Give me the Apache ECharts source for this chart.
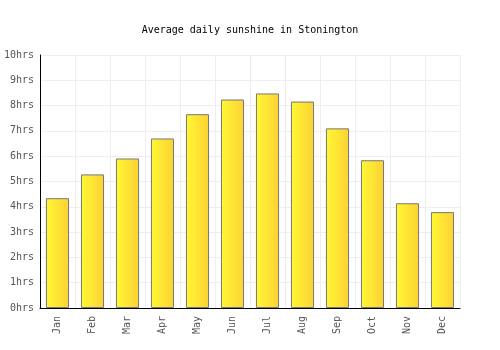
<!DOCTYPE html>
<html><head><meta charset="utf-8">
<script src="https://cdn.jsdelivr.net/npm/echarts@6/dist/echarts.min.js"></script>
<style>html,body{margin:0;padding:0;background:#fff}#c{width:500px;height:350px}</style>
</head><body><div id="c"></div>
<script>
const months = ['Jan','Feb','Mar','Apr','May','Jun','Jul','Aug','Sep','Oct','Nov','Dec'];
const sunshine = [4.34, 5.28, 5.91, 6.7, 7.66, 8.24, 8.48, 8.16, 7.10, 5.84, 4.14, 3.79];
const yMin = 0, yMax = 10, yStep = 1;
const titleText = 'Average daily sunshine in Stonington';
const font = '"DejaVu Sans Mono", monospace';
const chart = echarts.init(document.getElementById('c'));
chart.setOption({
  animation: false,
  title: {text: titleText, left: 'center', top: 20,
    textStyle: {fontFamily: font, fontSize: 10, fontWeight: 'normal', color: '#000'}},
  grid: {left: 40, right: 40, top: 55, bottom: 42},
  xAxis: {type: 'category', data: months,
    axisLine: {lineStyle: {color: '#000', width: 1}},
    axisTick: {show: false},
    splitLine: {show: true, lineStyle: {color: '#eee'}},
    axisLabel: {rotate: 90, fontFamily: font, fontSize: 10, color: '#555', margin: 8}},
  yAxis: {type: 'value', min: yMin, max: yMax, interval: yStep,
    axisLine: {show: true, lineStyle: {color: '#000', width: 1}},
    axisTick: {show: false},
    splitLine: {lineStyle: {color: '#eee'}},
    axisLabel: {formatter: v => v + 'hrs', fontFamily: font, fontSize: 10, color: '#555', margin: 6}},
  series: [{type: 'bar', data: sunshine, barWidth: '66%',
    itemStyle: {borderColor: '#777', borderWidth: 1,
      color: new echarts.graphic.LinearGradient(0, 0, 1, 0, [
        {offset: 0, color: '#fff833'}, {offset: 1, color: '#fdd135'}])}}]
});
</script></body></html>
